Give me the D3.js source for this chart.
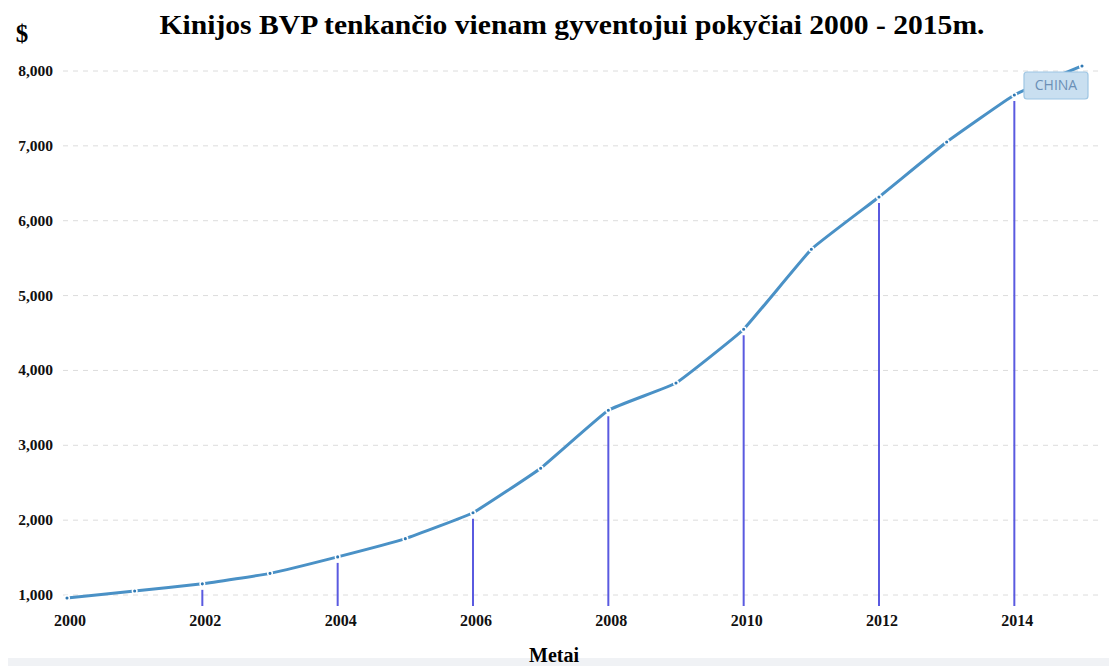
<!DOCTYPE html>
<html><head><meta charset="utf-8">
<script src="https://cdn.jsdelivr.net/npm/d3@7"></script>
<style>body{margin:0;background:#fff}svg{display:block}</style>
</head><body>
<script>
const years = [2000,2001,2002,2003,2004,2005,2006,2007,2008,2009,2010,2011,2012,2013,2014,2015];
const gdp = [959,1053,1149,1289,1509,1753,2099,2694,3468,3832,4550,5618,6317,7051,7679,8067];
const yTicks = [1000,2000,3000,4000,5000,6000,7000,8000];
const xTicks = [2000,2002,2004,2006,2008,2010,2012,2014];
const dropYears = [2002,2004,2006,2008,2010,2012,2014];
const seriesName = "CHINA";
const title = "Kinijos BVP tenkančio vienam gyventojui pokyčiai 2000 - 2015m.";

const W=1109,H=666;
const svg=d3.select("body").append("svg").attr("width",W).attr("height",H);
const x=d3.scaleLinear().domain([2000,2015]).range([67,1082]);
const y=d3.scaleLinear().domain([1000,8000]).range([595,71]);
const serif="'Liberation Serif','Times New Roman',serif";

// bottom strip
svg.append("rect").attr("x",8).attr("y",658).attr("width",W-8).attr("height",8).attr("fill","#f0f2f5");

// grid
svg.append("g").selectAll("line").data(yTicks).join("line")
  .attr("x1",63).attr("x2",1100).attr("y1",d=>y(d)).attr("y2",d=>y(d))
  .attr("stroke","#dcdcdc").attr("stroke-width",1).attr("stroke-dasharray","5,5");

// y labels
svg.append("g").selectAll("text").data(yTicks).join("text")
  .attr("x",53).attr("y",d=>y(d)+5).attr("text-anchor","end")
  .attr("font-family",serif).attr("font-weight","bold").attr("font-size",15.5).attr("fill","#111")
  .text(d=>d3.format(",")(d));

// x labels
svg.append("g").selectAll("text").data(xTicks).join("text")
  .attr("x",d=>x(d)+3).attr("y",626).attr("text-anchor","middle")
  .attr("font-family",serif).attr("font-weight","bold").attr("font-size",16).attr("fill","#111")
  .text(d=>d);

// drop lines
const lookup=new Map(years.map((yr,i)=>[yr,gdp[i]]));
svg.append("g").selectAll("line").data(dropYears).join("line")
  .attr("x1",d=>x(d)).attr("x2",d=>x(d)).attr("y1",d=>y(lookup.get(d))+6).attr("y2",606)
  .attr("stroke","#5a5ae0").attr("stroke-width",2);

// line
const pts=years.map((yr,i)=>({yr,v:gdp[i]}));
svg.append("path").datum(pts)
  .attr("d",d3.line().x(d=>x(d.yr)).y(d=>y(d.v)).curve(d3.curveCardinal.tension(0.7)))
  .attr("fill","none").attr("stroke","#4a91c6").attr("stroke-width",3);
svg.append("g").selectAll("circle").data(pts).join("circle")
  .attr("cx",d=>x(d.yr)).attr("cy",d=>y(d.v)).attr("r",2.3)
  .attr("fill","#2f78b3").attr("stroke","#fff").attr("stroke-width",1.5);

// series label
const lx=x(2015)-26, ly=y(gdp[15])+18;
svg.append("rect").attr("x",lx-32).attr("y",ly-12).attr("width",64).attr("height",27).attr("rx",3)
  .attr("fill","#c9dff0").attr("stroke","#9ec6e3").attr("stroke-width",1.2);
svg.append("text").attr("x",lx).attr("y",ly+6).attr("text-anchor","middle")
  .attr("font-family","'Open Sans',sans-serif").attr("font-size",14).attr("fill","#6b8fb6").text(seriesName);

// titles
svg.append("text").attr("x",572).attr("y",34).attr("text-anchor","middle")
  .attr("font-family",serif).attr("font-weight","bold").attr("font-size",27).attr("fill","#000")
  .attr("textLength",825).attr("lengthAdjust","spacingAndGlyphs").text(title);
svg.append("text").attr("x",22).attr("y",42).attr("text-anchor","middle")
  .attr("font-family",serif).attr("font-weight","bold").attr("font-size",25).attr("fill","#000").text("$");
svg.append("text").attr("x",554).attr("y",662).attr("text-anchor","middle")
  .attr("font-family",serif).attr("font-weight","bold").attr("font-size",20).attr("fill","#000").text("Metai");
</script>
</body></html>
